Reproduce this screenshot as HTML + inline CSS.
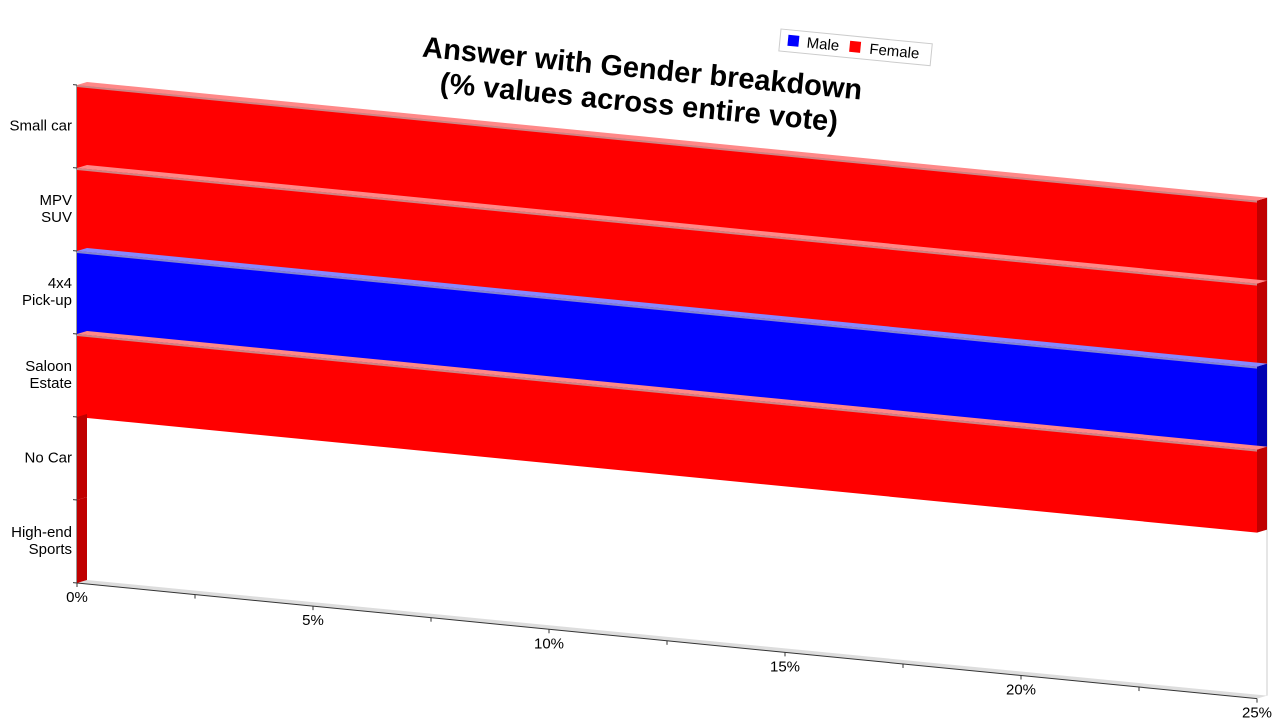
<!DOCTYPE html>
<html><head><meta charset="utf-8"><style>
body{margin:0;background:#fff;}
svg{display:block;font-family:"Liberation Sans",sans-serif;}
</style></head><body>
<svg id="chart" width="1280" height="720" viewBox="0 0 1280 720">
<g id="title" transform="translate(640,92) rotate(5.6)">
<text text-anchor="middle" y="-14" font-size="29" font-weight="bold" fill="#000">Answer with Gender breakdown</text>
<text text-anchor="middle" y="20" font-size="29" font-weight="bold" fill="#000">(% values across entire vote)</text>
</g>
<g transform="translate(781,29) rotate(5.6)">
<rect x="0" y="0" width="152" height="22" fill="#fff" stroke="#ccc"/>
<rect x="8" y="5" width="11" height="11" fill="#0000ff"/>
<text x="27" y="16" font-size="15">Male</text>
<rect x="70" y="5" width="11" height="11" fill="#ff0000"/>
<text x="90" y="16" font-size="15">Female</text>
</g>
<g id="plot" transform="matrix(1,0.098,0,1,0,-7.55)"></g>
<g id="labels"></g>
</svg>
<script>
const categories=["Small car","MPV|SUV","4x4|Pick-up","Saloon|Estate","No Car","High-end|Sports"];
const male=[0,0,30,0,0,0];
const female=[30,30,0,30,0,0];
const tickLabels=["0%","5%","10%","15%","20%","25%"];
const tickValues=[0,5,10,15,20,25];
const X0=77,X1=1257,TOP=85,BOT=583,MAXV=25,SLOPE=0.098;
const band=(BOT-TOP)/categories.length;
const xs=v=>X0+Math.min(v,MAXV)/MAXV*(X1-X0);
const ys=i=>TOP+i*band;
const NS="http://www.w3.org/2000/svg";
const plot=document.getElementById('plot'),labels=document.getElementById('labels');
function mk(tag,attrs,parent){const e=document.createElementNS(NS,tag);for(const k in attrs)e.setAttribute(k,attrs[k]);parent.appendChild(e);return e;}
// floor
const fl=mk('polygon',{points:`${X0},${BOT} ${X1},${BOT} ${X1+10},${BOT-4} ${X0+10},${BOT-4}`,fill:'#ddd'},plot);


mk('line',{x1:X1+10,y1:TOP-4,x2:X1+10,y2:BOT-4,stroke:'#ccc'},plot);
const ax=mk('line',{x1:X0,y1:BOT,x2:X1,y2:BOT,stroke:'#333'},plot);


const yax=mk('line',{x1:X0,y1:TOP,x2:X0,y2:BOT,stroke:'#333'},plot);


for(let t=0;t<=MAXV;t+=2.5){mk('line',{x1:xs(t),y1:BOT,x2:xs(t),y2:BOT+4,stroke:'#333'},plot);}
for(let i=0;i<=categories.length;i++){mk('line',{x1:X0-4,y1:ys(i),x2:X0,y2:ys(i),stroke:'#333'},plot);}
function bar(x0,x1,y,h,col,dark,light,name){
  const g=mk('g',{},plot);
  
  
  mk('polygon',{points:`${x1},${y} ${x1+10},${y-4} ${x1+10},${y+h-4} ${x1},${y+h}`,fill:dark},g);
  if(x1>x0){
    mk('polygon',{points:`${x0},${y} ${x0+10},${y-4} ${x1+10},${y-4} ${x1},${y}`,fill:light},g);
    mk('rect',{x:x0,y:y,width:x1-x0,height:h,fill:col},g);
    mk('line',{x1:x0,y1:y+1,x2:x1,y2:y+1,stroke:'#bbb','stroke-width':2,opacity:0.7},g);
  }
}
categories.forEach((c,i)=>{
  const y=ys(i);
  let acc=0;
  if(male[i]>0){bar(xs(acc),xs(acc+male[i]),y,band,'#0000ff','#0000b0','#8888ff','bar-male-'+i);acc+=male[i];}
  if(female[i]>0||male[i]===0){bar(xs(acc),xs(acc+female[i]),y,band,'#ff0000','#c00000','#ff8888','bar-female-'+i);}
  const lines=c.split('|');
  const cy=y+band/2+4;
  const t=mk('text',{x:72,y:cy-(lines.length-1)*8.5,'text-anchor':'end','font-size':15,fill:'#000'},labels);
  
  
  lines.forEach((l,j)=>{const s=mk('tspan',{x:72,dy:j?17:0},t);s.textContent=l;});
});
tickValues.forEach((v,i)=>{
  const x=xs(v),y=BOT+(x-X0)*SLOPE;
  const t=mk('text',{x:x,y:y+19,'text-anchor':'middle','font-size':15,fill:'#000'},labels);
  
  
  t.textContent=tickLabels[i];
});
</script>
</body></html>
